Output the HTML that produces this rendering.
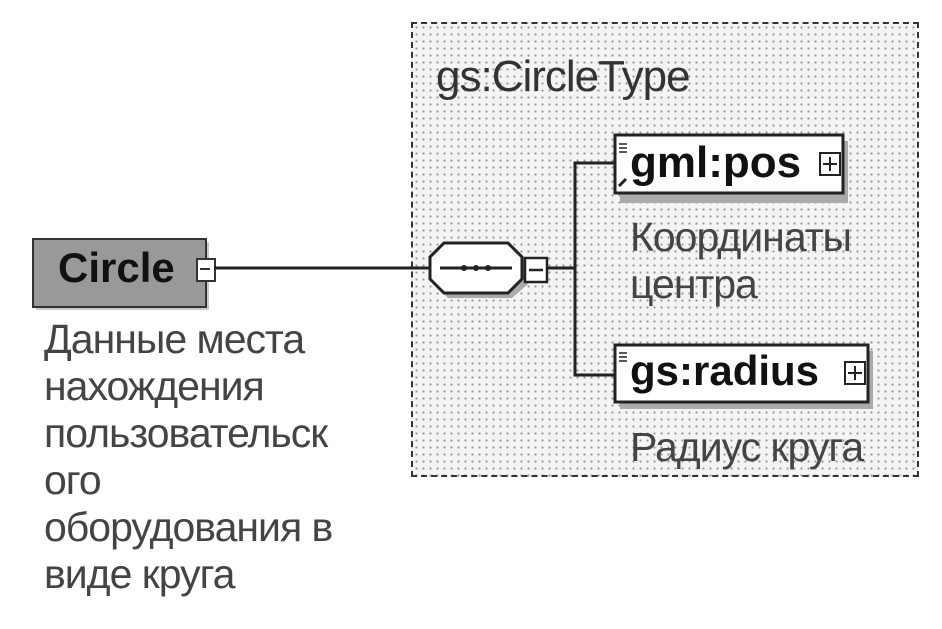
<!DOCTYPE html>
<html><head><meta charset="utf-8"><style>
body{margin:0;width:942px;height:629px;background:#fff;overflow:hidden;position:relative;font-family:"Liberation Sans","DejaVu Sans",sans-serif;color:#333}
.a{position:absolute;white-space:nowrap}
.dots{background-color:#f4f4f4;background-image:radial-gradient(#999 1px,transparent 1.3px);background-size:7px 7px}
.t{font-size:41px;line-height:47px;color:#444;letter-spacing:-1px}
</style></head><body>
<div class="a dots" style="left:411px;top:22px;width:504px;height:451px;border:2px dashed #333"></div>
<div class="a" style="left:436px;top:52px;font-size:44px;color:#333;letter-spacing:-1px">gs:CircleType</div>
<div class="a" style="left:36px;top:242px;width:173px;height:68px;background:#bbb;opacity:.8"></div>
<div class="a" style="left:32px;top:238px;width:171px;height:66px;background:#999;border:2px solid #333"></div>
<div class="a" style="left:58px;top:244px;font-size:42px;font-weight:bold;color:#111">Circle</div>
<div class="a" style="left:196px;top:258px;width:16px;height:20px;background:#fff;border:2px solid #333"></div>
<div class="a" style="left:200px;top:268px;width:10px;height:2px;background:#333"></div>
<div class="a t" style="left:44px;top:316px">Данные места<br>нахождения<br>пользовательск<br>ого<br>оборудования в<br>виде круга</div>
<svg class="a" style="left:0;top:0" width="942" height="629">
<line x1="214" y1="268" x2="432" y2="268" stroke="#222" stroke-width="3"/>
<polygon points="448,248 512,248 528,262 528,284 512,298 448,298 434,284 434,262" fill="#aaa"/>
<polygon points="444,243 508,243 522,257 522,279 508,293 444,293 430,279 430,257" fill="#fff" stroke="#222" stroke-width="3"/>
<line x1="440" y1="268" x2="512" y2="268" stroke="#222" stroke-width="3"/>
<circle cx="464" cy="268" r="3" fill="#222"/><circle cx="476" cy="268" r="3" fill="#222"/><circle cx="488" cy="268" r="3" fill="#222"/>
<rect x="525" y="258" width="22" height="24" fill="#fff" stroke="#222" stroke-width="2.5"/>
<line x1="529" y1="270" x2="543" y2="270" stroke="#222" stroke-width="2.5"/>
<line x1="547" y1="268" x2="575" y2="268" stroke="#222" stroke-width="3"/>
<polyline points="615,163 575,163 575,375 615,375" fill="none" stroke="#222" stroke-width="3"/>
<rect x="620" y="141" width="228" height="62" fill="#aaa"/>
<rect x="615" y="135" width="228" height="58" fill="#fff" stroke="#222" stroke-width="3"/>
<rect x="820" y="153" width="20" height="22" fill="#fff" stroke="#222" stroke-width="2"/>
<path d="M830 157v14M823 164h14" stroke="#222" stroke-width="2"/>
<path d="M619 144h8M619 148h8M619 152h8" stroke="#222" stroke-width="1.5"/>
<path d="M619 186l7-7" stroke="#222" stroke-width="3"/>
<rect x="620" y="351" width="253" height="58" fill="#aaa"/>
<rect x="615" y="345" width="253" height="57" fill="#fff" stroke="#222" stroke-width="3"/>
<rect x="845" y="362" width="20" height="22" fill="#fff" stroke="#222" stroke-width="2"/>
<path d="M855 366v14M848 373h14" stroke="#222" stroke-width="2"/>
<path d="M619 353h8M619 357h8M619 361h8" stroke="#222" stroke-width="1.5"/>
</svg>
<div class="a" style="left:630px;top:138px;font-size:44px;font-weight:bold;color:#111">gml:pos</div>
<div class="a" style="left:630px;top:347px;font-size:42px;font-weight:bold;color:#111">gs:radius</div>
<div class="a t" style="left:630px;top:214px">Координаты<br>центра</div>
<div class="a t" style="left:630px;top:424px">Радиус круга</div>
</body></html>
